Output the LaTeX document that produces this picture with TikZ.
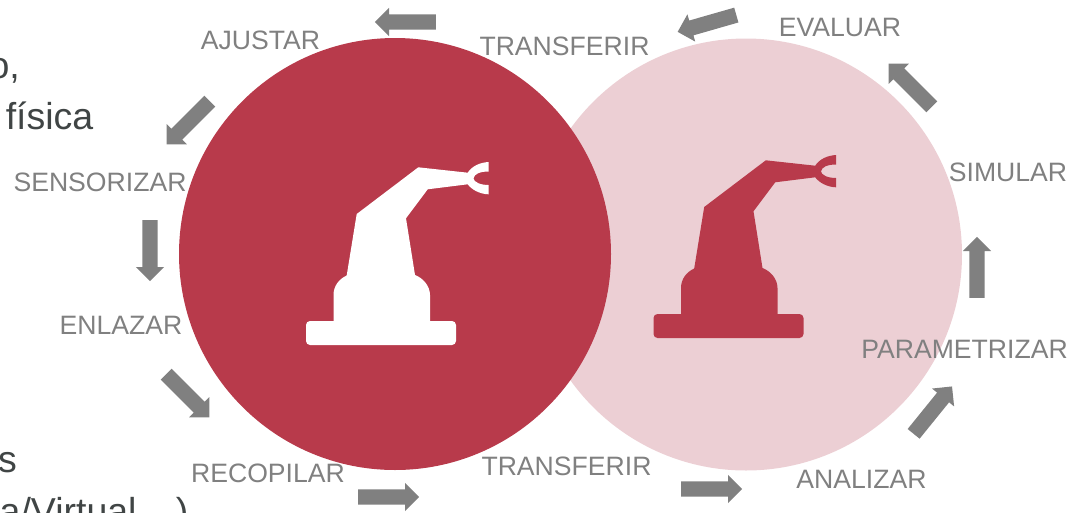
\documentclass[tikz,border=0pt]{standalone}
\usepackage{fontspec}
\setmainfont{Liberation Sans}
\usetikzlibrary{shapes.arrows}
\definecolor{robotred}{HTML}{B83A4B}
\definecolor{palered}{HTML}{ECCFD4}
\definecolor{labelgray}{HTML}{808080}
\definecolor{textdark}{HTML}{404545}
\tikzset{
	steplabel/.style={anchor=base, inner sep=0pt, text=labelgray, font=\fontsize{26.6}{30}\selectfont},
	bodytext/.style={anchor=base east, inner sep=0pt, text=textdark, font=\fontsize{37.5}{42}\selectfont},
	blockarrow/.style={shape=single arrow, anchor=tail, fill=labelgray, inner sep=0pt, text height=15pt, text depth=0pt, minimum height=61pt, minimum width=28pt, single arrow head extend=6.5pt}
}
\newcommand{\robotshape}[1]{
	\fill[#1, rounded corners=4pt] (306,321) rectangle (456,345);
	\fill[#1] (333.5,321) -- (333.5,295) .. controls (333.5,286) and (339,279) .. (346.7,275.5) -- (356.7,214) -- (418.3,167.3) -- (467.7,172.7) .. controls (472,166) and (480,162.5) .. (488.5,162) -- (488.5,171.5) .. controls (480,171.5) and (474,174) .. (473.5,178.5) .. controls (474,182) and (480,185) .. (488.5,185) -- (488.5,194.3) .. controls (480,194) and (472,190) .. (467.7,184.3) -- (427.7,189.3) -- (406,218.3) -- (415,275) .. controls (423,278) and (430,286) .. (430,295) -- (430,321) -- cycle;
}
\begin{document}
\begin{tikzpicture}[x=1pt, y=-1pt]
	\useasboundingbox (0,0) rectangle (1071,512);
	\clip (0,0) rectangle (1071,512);
	\fill[palered] (746,254.5) circle (216);
	\fill[robotred] (395,254) circle (216);
	\robotshape{white}
	\begin{scope}[xshift=347.5pt, yshift=7pt]
		\robotshape{robotred}
	\end{scope}
	\node[bodytext] (textone) at (20,78) {o,};
	\node[bodytext] (texttwo) at (93.5,129) {física};
	\node[bodytext] (textthree) at (17,472) {s};
	\node[bodytext] (textfour) at (188.5,524) {da/Virtual\hspace{8pt}...)};
	\node[steplabel] (ajustar) at (260.5,49.5) {AJUSTAR};
	\node[steplabel] (transfa) at (564.5,55.5) {TRANSFERIR};
	\node[steplabel] (evaluar) at (840,36.5) {EVALUAR};
	\node[steplabel] (simular) at (1008,181.5) {SIMULAR};
	\node[steplabel] (parametrizar) at (964.5,358.5) {PARAMETRIZAR};
	\node[steplabel] (analizar) at (861.5,488.5) {ANALIZAR};
	\node[steplabel] (transfb) at (566.5,475.5) {TRANSFERIR};
	\node[steplabel] (recopilar) at (268,482.5) {RECOPILAR};
	\node[steplabel] (enlazar) at (121,334.5) {ENLAZAR};
	\node[steplabel] (sensorizar) at (100,191.5) {SENSORIZAR};
	\node[blockarrow, rotate=180] (arrowa) at (436,22) {};
	\node[blockarrow, rotate=225] (arrowb) at (210,101) {};
	\node[blockarrow, rotate=270] (arrowc) at (150,220) {};
	\node[blockarrow, rotate=315] (arrowd) at (166,374) {};
	\node[blockarrow] (arrowe) at (358,497) {};
	\node[blockarrow] (arrowf) at (681,489) {};
	\node[blockarrow, rotate=51] (arrowg) at (913.5,434) {};
	\node[blockarrow, rotate=90] (arrowh) at (977,298) {};
	\node[blockarrow, rotate=135] (arrowi) at (932,107) {};
	\node[blockarrow, rotate=196] (arrowj) at (736.5,15) {};
\end{tikzpicture}
\end{document}
